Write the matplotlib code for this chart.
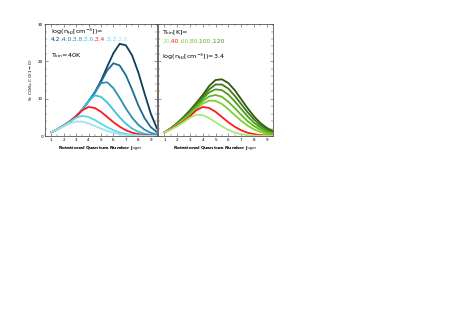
import matplotlib
matplotlib.use("Agg")
import matplotlib.pyplot as plt
import numpy as np

# upper rotational level, read every half step off the picture
j_up = [1.0, 1.5, 2.0, 2.5, 3.0, 3.5, 4.0, 4.5, 5.0, 5.5, 6.0, 6.5, 7.0, 7.5, 8.0, 8.5, 9.0, 9.5]

# left panel: Tkin = 40 K, different densities
dens_labels = ["4.2", "4.0", "3.8", "3.6", "3.4", "3.2", "3.0"]
dens_colors = ["#0f3d5e", "#1f6b94", "#2b8fb6", "#3cc3d6", "#ff1a1a", "#5ed6e6", "#9fe3ec"]
dens_curves = [
    [1.0, 1.8, 2.8, 3.9, 5.3, 7.1, 9.3, 11.7, 14.8, 18.6, 22.2, 24.7, 24.3, 21.6, 17.0, 11.4, 6.0, 2.0],
    [1.0, 1.8, 2.8, 3.9, 5.3, 7.1, 9.3, 11.6, 14.5, 17.6, 19.5, 18.9, 16.3, 12.4, 8.2, 4.8, 2.4, 1.0],
    [1.0, 1.8, 2.8, 3.9, 5.3, 7.1, 9.3, 11.6, 14.2, 14.4, 12.8, 10.2, 7.4, 4.9, 3.0, 1.7, 0.85, 0.4],
    [1.0, 1.8, 2.8, 3.9, 5.3, 7.1, 9.3, 10.9, 10.5, 9.0, 7.0, 5.0, 3.3, 2.0, 1.15, 0.6, 0.3, 0.15],
    [1.0, 1.8, 2.8, 3.9, 5.3, 6.9, 7.8, 7.5, 6.5, 5.1, 3.7, 2.5, 1.55, 0.9, 0.5, 0.26, 0.13, 0.06],
    [1.0, 1.8, 2.75, 3.8, 4.9, 5.4, 5.1, 4.3, 3.3, 2.35, 1.55, 0.95, 0.55, 0.3, 0.15, 0.07, 0.03, 0.01],
    [1.0, 1.75, 2.6, 3.4, 3.9, 3.85, 3.4, 2.7, 2.0, 1.35, 0.85, 0.5, 0.28, 0.15, 0.08, 0.04, 0.02, 0.01],
]

# right panel: log n = 3.4, different kinetic temperatures
temp_labels = ["20", "40", "60", "80", "100", "120"]
temp_text_colors = ["#9be86a", "#ff1a1a", "#7fd63a", "#6cc22c", "#5aa824", "#4a8f1e"]
temp_colors = ["#2f5a12", "#3f7a17", "#4f9a1c", "#64b820", "#7fd130", "#ff1a1a", "#a9e87c"]
temp_curves = [
    [1.0, 2.1, 3.5, 5.1, 6.9, 8.9, 11.0, 13.4, 15.0, 15.2, 14.2, 12.3, 9.9, 7.5, 5.3, 3.5, 2.2, 1.3],
    [1.0, 2.05, 3.4, 4.9, 6.6, 8.5, 10.5, 12.5, 13.8, 13.8, 12.7, 10.8, 8.6, 6.4, 4.5, 2.9, 1.8, 1.0],
    [1.0, 2.0, 3.3, 4.7, 6.3, 8.1, 10.0, 11.7, 12.5, 12.3, 11.1, 9.3, 7.3, 5.3, 3.6, 2.3, 1.4, 0.8],
    [1.0, 1.95, 3.15, 4.5, 6.0, 7.7, 9.4, 10.6, 11.0, 10.5, 9.2, 7.5, 5.7, 4.0, 2.7, 1.7, 1.0, 0.55],
    [1.0, 1.9, 3.0, 4.3, 5.7, 7.3, 8.7, 9.5, 9.4, 8.6, 7.2, 5.6, 4.1, 2.8, 1.8, 1.1, 0.6, 0.3],
    [1.0, 1.8, 2.8, 3.9, 5.3, 6.9, 7.8, 7.5, 6.5, 5.1, 3.7, 2.5, 1.55, 0.9, 0.5, 0.26, 0.13, 0.06],
    [1.0, 1.7, 2.6, 3.7, 4.9, 5.7, 5.6, 4.8, 3.7, 2.6, 1.65, 0.95, 0.5, 0.25, 0.12, 0.06, 0.03, 0.01],
]

x_ticks = [1, 2, 3, 4, 5, 6, 7, 8, 9]
y_ticks = [0, 10, 20, 30]

plt.rcParams["font.family"] = "DejaVu Sans"

fig = plt.figure(figsize=(4.63, 3.27), dpi=100)
ax1 = fig.add_axes([0.0972, 0.584, 0.2419, 0.3425])
ax2 = fig.add_axes([0.3413, 0.584, 0.2484, 0.3425])


def style_axis(ax, show_ylabels):
    ax.set_xlim(0.5, 9.5)
    ax.set_ylim(0, 30)
    ax.set_xticks(x_ticks)
    ax.set_yticks(y_ticks)
    ax.set_yticks(np.arange(0, 31, 2), minor=True)
    ax.set_xticks(np.arange(0.5, 9.6, 0.5), minor=True)
    ax.tick_params(which="both", direction="in", top=True, right=True,
                   labelsize=3, pad=1.5, color="#444444")
    ax.tick_params(which="major", length=2.2, width=0.4)
    ax.tick_params(which="minor", length=1.1, width=0.3)
    if not show_ylabels:
        ax.tick_params(labelleft=False)
    for sp in ax.spines.values():
        sp.set_linewidth(0.6)
        sp.set_color("#555555")
    ax.set_xlabel("Rotational Quantum Number J$_{\\rm upper}$", fontsize=3.2,
                  fontweight="bold", labelpad=1.5)


def colored_row(ax, x, y, parts, colors, size):
    t = ax.text(x, y, parts[0], color=colors[0], fontsize=size,
                transform=ax.transAxes, va="center")
    for i in range(1, len(parts)):
        t = ax.annotate("," + parts[i], xy=(1, 0), xycoords=t, va="bottom",
                        color=colors[i], fontsize=size)
    return t


for vals, col in zip(dens_curves, dens_colors):
    ax1.plot(j_up, vals, color=col, lw=1.3, solid_capstyle="round",
             solid_joinstyle="round")
style_axis(ax1, True)
ax1.set_ylabel("S$_\\nu$ CO/S$_\\nu$ CO(1$\\rightarrow$0)", fontsize=3.2, labelpad=2)
ax1.text(0.05, 0.93, "log(n$_{\\rm H_2}$[cm$^{-3}$])=", fontsize=4.6,
         transform=ax1.transAxes, va="center")
colored_row(ax1, 0.05, 0.86, dens_labels, dens_colors, 4.3)
ax1.text(0.05, 0.715, "T$_{\\rm kin}$=40K", fontsize=4.6,
         transform=ax1.transAxes, va="center")

for vals, col in zip(temp_curves, temp_colors):
    ax2.plot(j_up, vals, color=col, lw=1.3, solid_capstyle="round",
             solid_joinstyle="round")
style_axis(ax2, False)
ax2.text(0.035, 0.92, "T$_{\\rm kin}$[K]=", fontsize=4.6,
         transform=ax2.transAxes, va="center")
colored_row(ax2, 0.035, 0.845, temp_labels, temp_text_colors, 4.3)
ax2.text(0.035, 0.71, "log(n$_{\\rm H_2}$[cm$^{-3}$])=3.4", fontsize=4.6,
         transform=ax2.transAxes, va="center")

fig.savefig("out.png", dpi=100)
